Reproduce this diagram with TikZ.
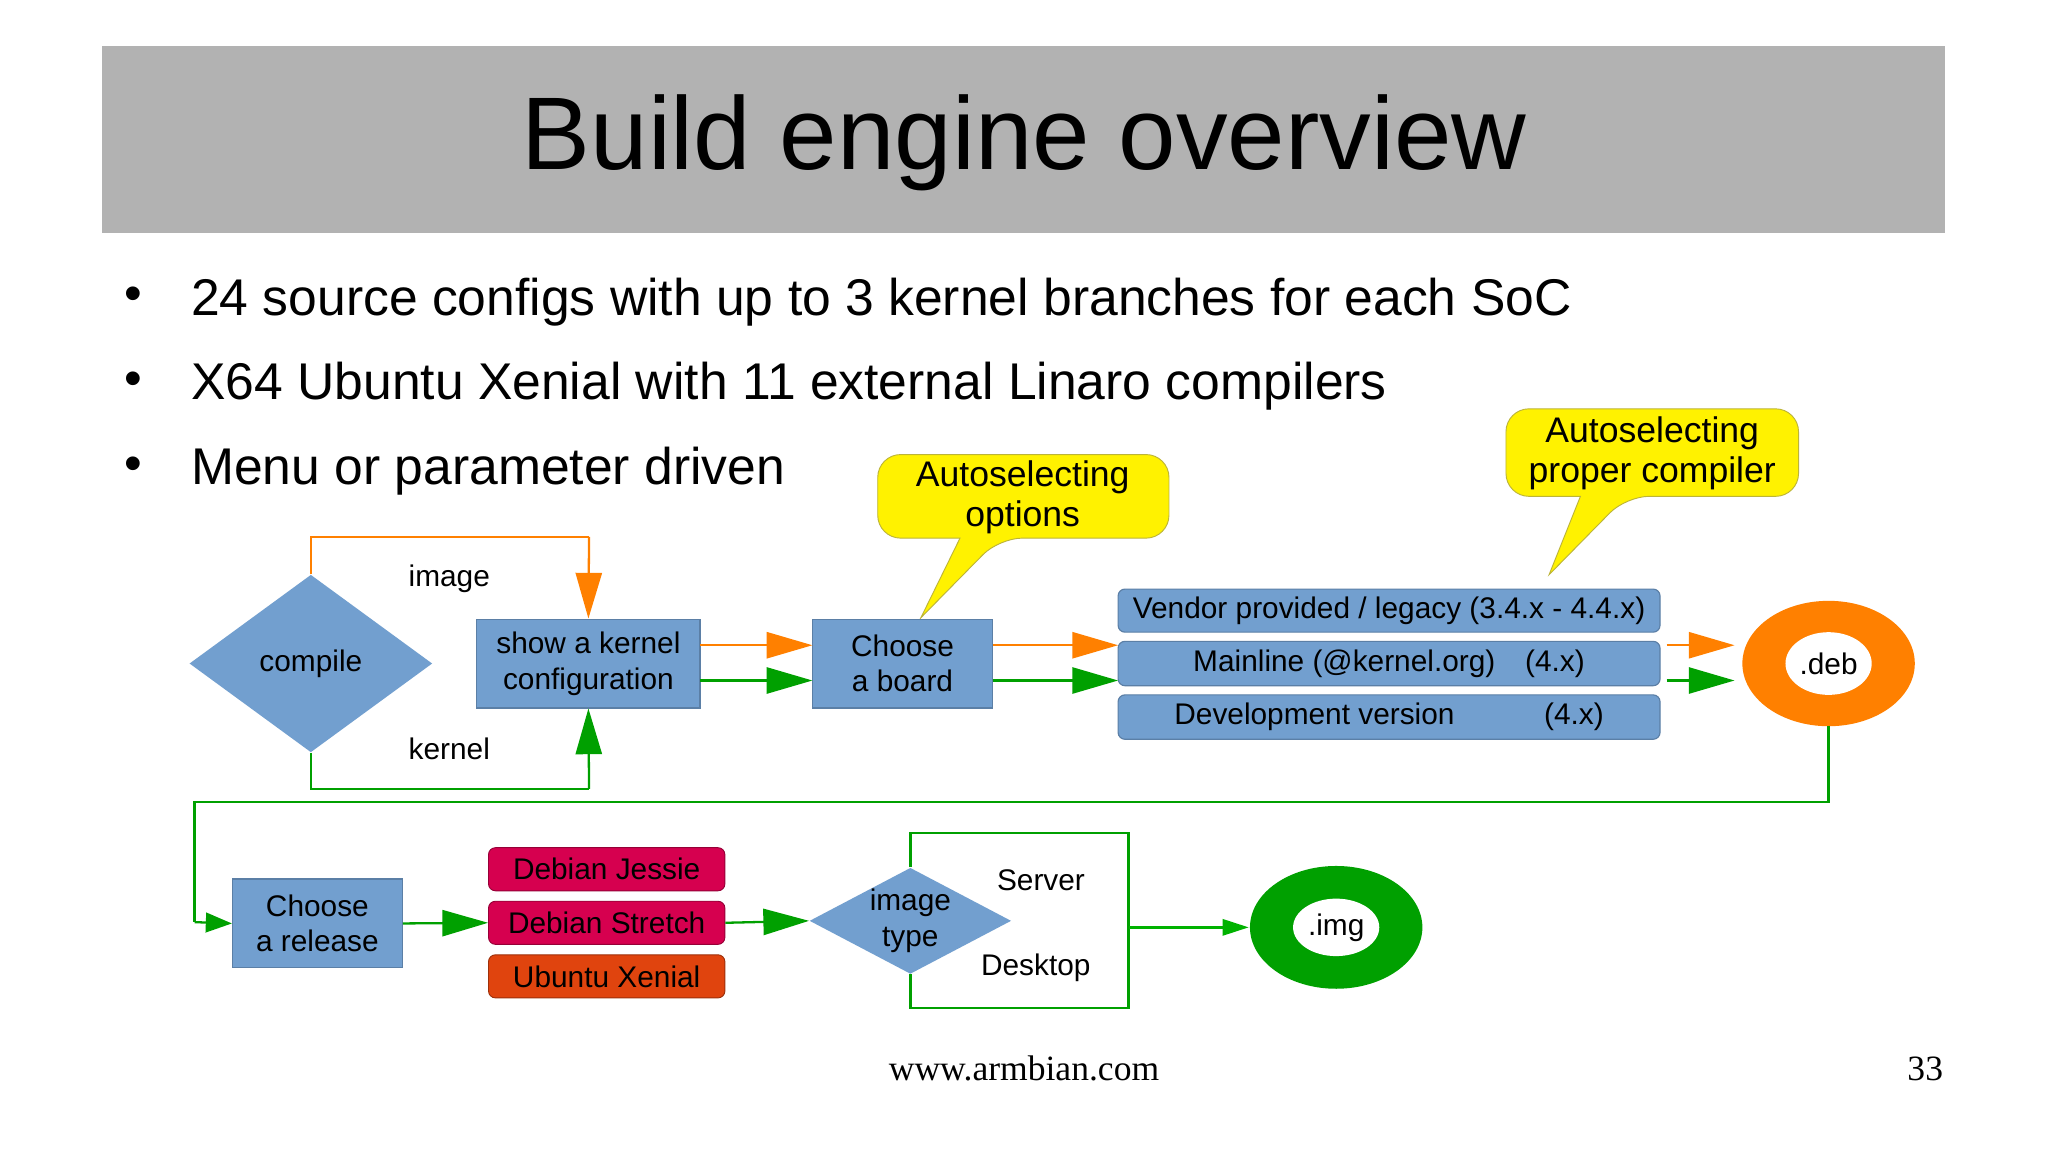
\documentclass[tikz,border=0pt]{standalone}
\usepackage{fontspec}
\setmainfont{Liberation Sans}
\newfontfamily\serifft{Liberation Serif}
\usetikzlibrary{shapes.geometric,arrows.meta}
\definecolor{nblue}{HTML}{729FCF}
\definecolor{ogr}{HTML}{FF8000}
\definecolor{grn}{HTML}{00A000}
\definecolor{crim}{HTML}{D6004F}
\definecolor{xen}{HTML}{E0440E}
\tikzset{
 bx/.style={draw=nblue!80!black,fill=nblue,font=\fontsize{13}{15.5}\selectfont,align=center,inner sep=0pt,line width=0.5pt},
 dm/.style={diamond,fill=nblue,font=\fontsize{13}{15.5}\selectfont,align=center,inner sep=0pt,aspect=1.4},
 rb/.style={draw=nblue!80!black,fill=nblue,rounded corners=3pt,font=\fontsize{13}{15}\selectfont,inner sep=0pt,line width=0.5pt},
 ao/.style={ogr,line width=1pt,-{Triangle[length=7mm,width=4mm]}},
 ag/.style={grn,line width=1pt,-{Triangle[length=7mm,width=4mm]}},
 lo/.style={ogr,line width=1pt},
 lg/.style={grn,line width=1pt},
 lbl/.style={font=\fontsize{13}{15}\selectfont},
 call/.style={fill=yellow,draw=yellow!70!black,line width=0.4pt},
 ctext/.style={font=\fontsize{15.5}{17.5}\selectfont,align=center},
}
\begin{document}
\begin{tikzpicture}[x=0.02cm,y=-0.02cm]
\path[fill=white,use as bounding box] (0,0) rectangle (1568,880);
\fill[gray!60] (78,35) rectangle (1489,178);
\node (title) at (784,109) {\fontsize{45}{50}\selectfont Build engine overview};
\foreach \yy/\t in {229/24 source configs with up to 3 kernel branches for each SoC,294/X64 Ubuntu Xenial with 11 external Linaro compilers,359/Menu or parameter driven}{
 \node at (102,\yy) {\fontsize{22}{24}\selectfont\textbullet};
 \node[anchor=west,inner sep=0pt] at (146,\yy+2) {\fontsize{22.5}{26}\selectfont \t};
}
% callouts
\draw[call,rounded corners=10pt] (672,348) -- (895,348) -- (895,412) -- (765,412) [sharp corners]-- (705,473) -- (735,412) [rounded corners=10pt]-- (672,412) -- cycle;
\node[ctext] (c1) at (783,381) {Autoselecting\\options};
\draw[call,rounded corners=10pt] (1153,313) -- (1377,313) -- (1377,380) -- (1245,380) [sharp corners]-- (1186,440) -- (1210,380) [rounded corners=10pt]-- (1153,380) -- cycle;
\node[ctext] (c2) at (1265,347) {Autoselecting\\proper compiler};
% top row
\node[dm,minimum width=3.72cm,minimum height=2.72cm] (compile) at (238,508) {compile};
\node[bx,minimum width=3.42cm,minimum height=1.36cm] (kern) at (450.5,508) {show a kernel\\configuration};
\node[bx,minimum width=2.76cm,minimum height=1.36cm] (board) at (691,508) {Choose\\a board};
\node[rb,minimum width=8.3cm,minimum height=0.66cm] (v1) at (1063.5,467.5) {Vendor provided / legacy (3.4.x - 4.4.x)};
\node[rb,minimum width=8.3cm,minimum height=0.68cm] (v2) at (1063.5,508) {Mainline (@kernel.org)\quad(4.x)};
\node[rb,minimum width=8.3cm,minimum height=0.68cm] (v3) at (1063.5,549) {Development version\qquad\quad(4.x)};
\fill[ogr] (1400,508) ellipse [x radius=66,y radius=48];
\fill[white] (1400,508) ellipse [x radius=33,y radius=24];
\node[lbl] (deb) at (1400,508) {.deb};
\draw[lo] (compile.north) -- (238,411) -- (451,411);
\draw[ao] (451,411) -- (kern.north);
\draw[lg] (compile.south) -- (238,604) -- (451,604);
\draw[ag] (451,604) -- (kern.south);
\node[lbl] (im) at (344,443) {image};
\node[lbl] (ke) at (344,573) {kernel};
\draw[ao] (536,494) -- (622,494);
\draw[ag] (536,521) -- (622,521);
\draw[ao] (760,494) -- (856,494);
\draw[ag] (760,521) -- (856,521);
\draw[ao] (1276,494) -- (1328,494);
\draw[ag] (1276,521) -- (1328,521);
% bottom row
\node[bx,minimum width=2.6cm,minimum height=1.36cm] (rel) at (243,707) {Choose\\a release};
\draw[lg] (1400,556) -- (1400,614) -- (149,614) -- (149,706);
\draw[grn,line width=1pt,-{Triangle[length=4mm,width=3mm]}] (149,706) -- (rel.west);
\node[fill=crim,draw=crim!70!black,rounded corners=3pt,minimum width=3.62cm,minimum height=0.66cm,inner sep=0pt,font=\fontsize{13}{15}\selectfont] (dj) at (464.5,665.5) {Debian Jessie};
\node[fill=crim,draw=crim!70!black,rounded corners=3pt,minimum width=3.62cm,minimum height=0.66cm,inner sep=0pt,font=\fontsize{13}{15}\selectfont] (ds) at (464.5,706.5) {Debian Stretch};
\node[fill=xen,draw=xen!70!black,rounded corners=3pt,minimum width=3.62cm,minimum height=0.66cm,inner sep=0pt,font=\fontsize{13}{15}\selectfont] (ux) at (464.5,747.5) {Ubuntu Xenial};
\draw[ag] (rel.east) -- (ds.west);
\node[dm,aspect=1.9,minimum width=3cm,minimum height=1.56cm] (it) at (697,705) {image\\type};
\draw[ag] (ds.east) -- (it.west);
\draw[lg] (it.north) -- (697,638) -- (864,638) -- (864,772) -- (697,772) -- (it.south);
\node[lbl] (srv) at (797,674) {Server};
\node[lbl] (dsk) at (793,741) {Desktop};
\fill[grn] (1023,710) ellipse [x radius=66,y radius=47];
\fill[white] (1023,710) ellipse [x radius=33,y radius=22];
\node[lbl] (img) at (1023,710) {.img};
\draw[green!70!black,line width=1pt,-{Triangle[length=4mm,width=2.5mm]}] (864,710) -- (956,710);
\node (www) at (784,818) {\serifft\fontsize{15.5}{17}\selectfont www.armbian.com};
\node (pg) at (1474,818) {\serifft\fontsize{15.5}{17}\selectfont 33};
\end{tikzpicture}
\end{document}
